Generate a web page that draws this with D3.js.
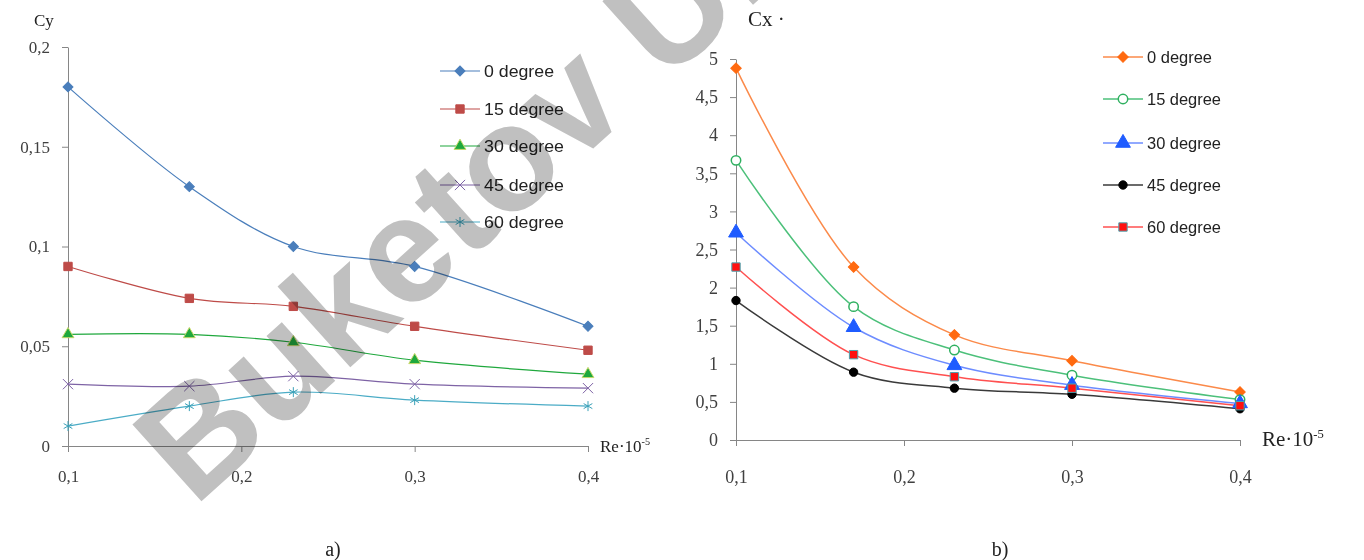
<!DOCTYPE html>
<html>
    <head>
        <title>Cy and Cx vs Re</title>
        <script src="https://cdn.jsdelivr.net/npm/d3@7"></script>
        <style>
            body { margin: 0; background: white; }
            .tick text { font-family: "Liberation Serif", "Times New Roman", serif; fill: #404040; }
            .legend text { font-family: "Liberation Sans", Arial, sans-serif; fill: #222; }
            .lbl { font-family: "Liberation Serif", "Times New Roman", serif; fill: #222; }
            .wm { font-family: "Liberation Sans", Arial, sans-serif; fill: #c0c0c0; mix-blend-mode: multiply; }
        </style>
    </head>
    <body>
        <script>
            // Re * 10^-5 positions shared by both charts
            var reX = [0.1, 0.17, 0.23, 0.3, 0.4];
            var xTicks = [0.1, 0.2, 0.3, 0.4];
            var names = ["0 degree", "15 degree", "30 degree", "45 degree", "60 degree"];

            // chart a) lift coefficient Cy
            var cy0 = [0.18, 0.13, 0.10, 0.09, 0.06];
            var cy15 = [0.09, 0.074, 0.07, 0.06, 0.048];
            var cy30 = [0.056, 0.056, 0.052, 0.043, 0.036];
            var cy45 = [0.031, 0.030, 0.035, 0.031, 0.029];
            var cy60 = [0.010, 0.020, 0.027, 0.023, 0.020];
            var cyTicks = [0, 0.05, 0.1, 0.15, 0.2];

            // chart b) drag coefficient Cx
            var cx0 = [4.88, 2.27, 1.38, 1.04, 0.63];
            var cx15 = [3.67, 1.75, 1.18, 0.85, 0.53];
            var cx30 = [2.72, 1.48, 0.98, 0.72, 0.48];
            var cx45 = [1.83, 0.89, 0.68, 0.60, 0.41];
            var cx60 = [2.27, 1.12, 0.83, 0.68, 0.45];
            var cxTicks = [0, 0.5, 1, 1.5, 2, 2.5, 3, 3.5, 4, 4.5, 5];

            var width = 1364, height = 560;
            var svg = d3.select("body").append("svg")
                .attr("width", width)
                .attr("height", height);

            var comma = function(d) { return String(d).replace(".", ","); };
            var symTimes = d3.symbolTimes || d3.symbolCross;
            var symStar = d3.symbolAsterisk || d3.symbolCross;

            function marker(sel, s) {
                // diamonds are squares turned 45deg, like the spreadsheet marker
                sel.attr("d", d3.symbol().type(s.shape).size(s.size))
                    .attr("fill", s.fill)
                    .attr("stroke", s.stroke)
                    .attr("stroke-width", s.sw || 1);
            }

            function drawChart(c) {
                var x = d3.scaleLinear().domain([0.1, 0.4]).range([c.x0, c.x1]);
                var y = d3.scaleLinear().domain([0, c.yMax]).range([c.y0, c.y1]);
                var g = svg.append("g");

                var ax = g.append("g")
                    .attr("transform", "translate(0," + c.y0 + ")")
                    .call(d3.axisBottom(x).tickValues(xTicks).tickFormat(comma)
                        .tickSizeInner(6).tickSizeOuter(0).tickPadding(c.xPad));
                var ay = g.append("g")
                    .attr("transform", "translate(" + c.x0 + ",0)")
                    .call(d3.axisLeft(y).tickValues(c.yTicks).tickFormat(comma)
                        .tickSizeInner(6).tickSizeOuter(0).tickPadding(12));
                [ax, ay].forEach(function(a) {
                    a.select(".domain").attr("stroke", "#868686");
                    a.selectAll(".tick line").attr("stroke", "#868686");
                    a.selectAll(".tick text").attr("font-size", c.tickFont);
                });

                var line = d3.line()
                    .x(function(d, i) { return x(reX[i]); })
                    .y(function(d) { return y(d); })
                    .curve(d3.curveCatmullRom.alpha(0.5));

                c.series.forEach(function(s) {
                    g.append("path")
                        .attr("d", line(s.values))
                        .attr("fill", "none")
                        .attr("stroke", s.color)
                        .attr("stroke-width", c.lw);
                });
                c.series.forEach(function(s) {
                    g.selectAll(null)
                        .data(s.values)
                        .enter()
                        .append("path")
                        .attr("transform", function(d, i) {
                            return "translate(" + x(reX[i]) + "," + y(d) + ")" + (s.rot ? " rotate(45)" : "");
                        })
                        .call(marker, s);
                });

                // legend
                var lg = g.append("g").attr("class", "legend");
                c.series.forEach(function(s, i) {
                    var ly = c.legY[i];
                    lg.append("line")
                        .attr("x1", c.legX).attr("x2", c.legX + c.legLen)
                        .attr("y1", ly).attr("y2", ly)
                        .attr("stroke", s.color).attr("stroke-width", c.lw);
                    lg.append("path")
                        .attr("transform", "translate(" + (c.legX + c.legLen / 2) + "," + ly + ")" + (s.rot ? " rotate(45)" : ""))
                        .call(marker, s);
                    lg.append("text")
                        .attr("x", c.legX + c.legLen + 4)
                        .attr("y", ly)
                        .attr("dy", "0.35em")
                        .attr("font-size", c.legFont)
                        .attr("textLength", c.legW[i])
                        .attr("lengthAdjust", "spacingAndGlyphs")
                        .text(names[i]);
                });

                // axis titles
                g.append("text").attr("class", "lbl")
                    .attr("x", c.yTitleX).attr("y", c.yTitleY)
                    .attr("font-size", c.titleFont)
                    .text(c.yTitle);
                var re = g.append("text").attr("class", "lbl")
                    .attr("x", c.x1 + c.reDx).attr("y", c.y0 + 6)
                    .attr("font-size", c.reFont);
                re.append("tspan").text("Re\u00b710");
                re.append("tspan").attr("dy", -c.reFont * 0.4)
                    .attr("font-size", c.reFont * 0.6).text("-5");

                g.append("text").attr("class", "lbl")
                    .attr("x", c.capX).attr("y", 556)
                    .attr("text-anchor", "middle")
                    .attr("font-size", 20)
                    .text(c.caption);
            }

            drawChart({
                x0: 68, x1: 588, y0: 446, y1: 47, yMax: 0.2, lw: 1.2,
                yTicks: cyTicks, xPad: 18, tickFont: 17,
                series: [
                    { values: cy0, color: "#4a7ebb", shape: d3.symbolSquare, rot: true, size: 50, fill: "#4a7ebb", stroke: "#4a7ebb" },
                    { values: cy15, color: "#be4b48", shape: d3.symbolSquare, size: 70, fill: "#be4b48", stroke: "#be4b48" },
                    { values: cy30, color: "#1fa83d", shape: d3.symbolTriangle, size: 60, fill: "#1fa83d", stroke: "#c8d86a" },
                    { values: cy45, color: "#7e63a5", shape: symTimes, size: 70, fill: "none", stroke: "#7e63a5" },
                    { values: cy60, color: "#4bacc6", shape: symStar, size: 70, fill: "none", stroke: "#3aa1b8" }
                ],
                legX: 440, legLen: 40, legY: [71, 109, 146, 185, 222], legFont: 16,
                legW: [70, 80, 80, 80, 80],
                yTitle: "Cy", yTitleX: 34, yTitleY: 26, titleFont: 17, reFont: 17, reDx: 12,
                capX: 333, caption: "a)"
            });

            drawChart({
                x0: 736, x1: 1240, y0: 440, y1: 59, yMax: 5, lw: 1.5,
                yTicks: cxTicks, xPad: 24, tickFont: 18,
                series: [
                    { values: cx0, color: "#fb8a4a", shape: d3.symbolSquare, rot: true, size: 55, fill: "#ff6a10", stroke: "#ff6a10" },
                    { values: cx15, color: "#4cc07a", shape: d3.symbolCircle, size: 70, fill: "white", stroke: "#2fb060", sw: 1.5 },
                    { values: cx30, color: "#6d8cff", shape: d3.symbolTriangle, size: 95, fill: "#1f5cff", stroke: "#1f5cff" },
                    { values: cx45, color: "#3a3a3a", shape: d3.symbolCircle, size: 55, fill: "#000", stroke: "#000" },
                    { values: cx60, color: "#ff5050", shape: d3.symbolSquare, size: 70, fill: "#ff1010", stroke: "#4aa3b0" }
                ],
                legX: 1103, legLen: 40, legY: [57, 99, 143, 185, 227], legFont: 16,
                legW: [65, 74, 74, 74, 74],
                yTitle: "Cx \u00b7", yTitleX: 748, yTitleY: 26, titleFont: 21, reFont: 21, reDx: 22,
                capX: 1000, caption: "b)"
            });

            // watermark across the figure
            svg.append("text")
                .attr("class", "wm")
                .attr("transform", "translate(194,508) rotate(-42)")
                .attr("font-size", 150)
                .attr("font-weight", "bold")
                .text("Buketov University");
        </script>
    </body>
</html>
